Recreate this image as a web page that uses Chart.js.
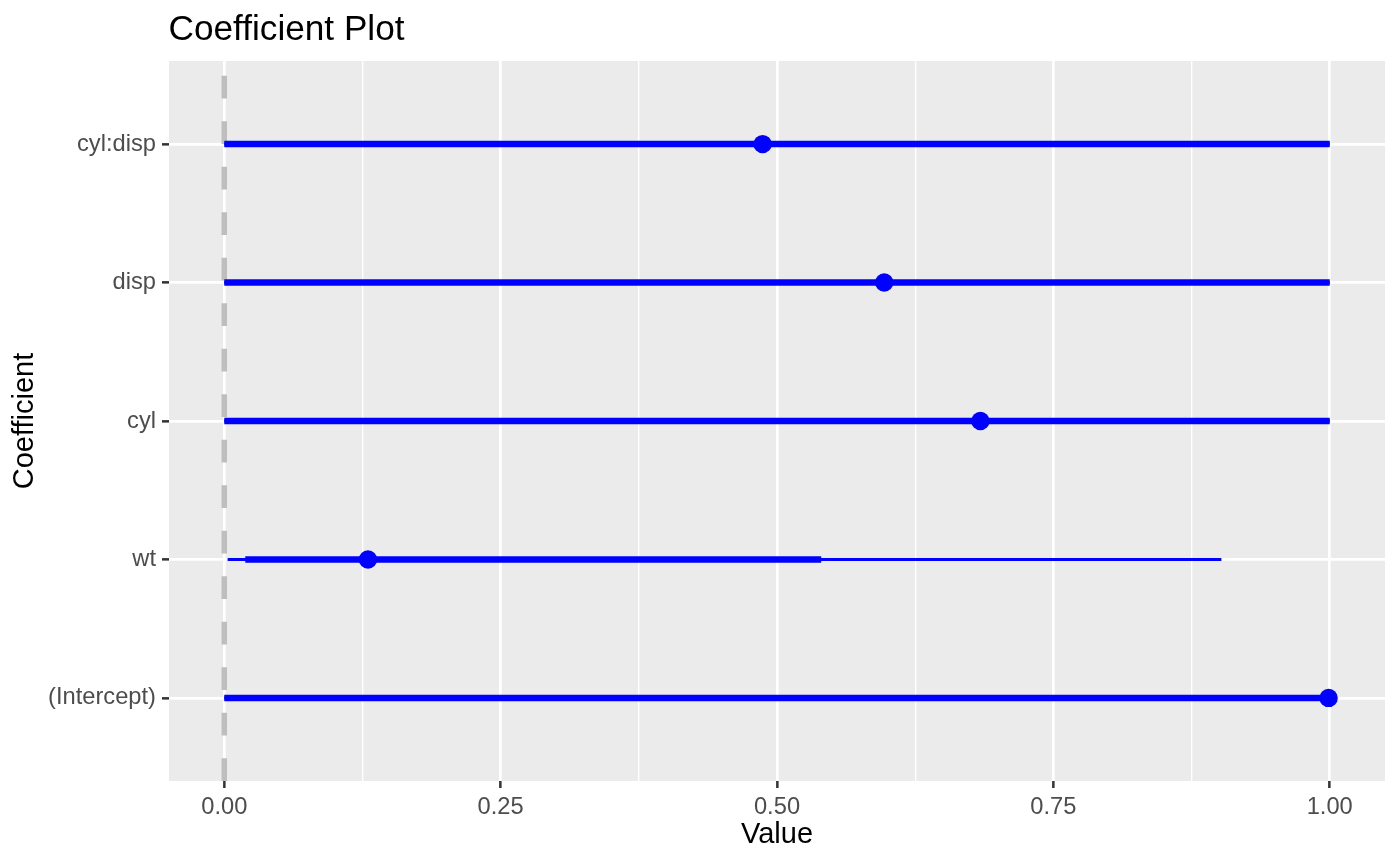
<!DOCTYPE html>
<html>
<head>
<meta charset="utf-8">
<script src="https://cdn.jsdelivr.net/npm/chart.js@4.4.1/dist/chart.umd.min.js"></script>
<style>
  html, body { margin: 0; padding: 0; background: #fff; }
  canvas { display: block; }
</style>
</head>
<body>
<canvas id="coefChart" width="1400" height="865"></canvas>
<script>
// coefficients, bottom to top
const coefNames = ['(Intercept)', 'wt', 'cyl', 'disp', 'cyl:disp'];
const estimates = [0.999, 0.130, 0.684, 0.597, 0.487];
const innerLow  = [0, 0.019, 0, 0, 0];
const innerHigh = [1, 0.540, 1, 1, 1];
const outerLow  = [0, 0.003, 0, 0, 0];
const outerHigh = [1, 0.902, 1, 1, 1];
const xTicks = [0, 0.125, 0.25, 0.375, 0.5, 0.625, 0.75, 0.875, 1];
const refLine = 0;
const xMin = -0.05, xMax = 1.05;
const yMin = 0.4, yMax = 5.6;

const FONT = '"Liberation Sans", Arial, Helvetica, sans-serif';
const isMajor = v => Math.abs(v * 4 - Math.round(v * 4)) < 1e-9;

const datasets = [];

// dashed reference line at zero
datasets.push({
  data: [{ x: refLine, y: yMin }, { x: refLine, y: yMax }],
  showLine: true,
  borderColor: '#BEBEBE',
  borderWidth: 5.5,
  borderDash: [22.75, 22.75],
  pointRadius: 0,
  order: 4
});

coefNames.forEach((name, i) => {
  datasets.push({
    data: [{ x: outerLow[i], y: i + 1 }, { x: outerHigh[i], y: i + 1 }],
    showLine: true,
    borderColor: '#0000FF',
    borderWidth: 3,
    pointRadius: 0,
    order: 3
  });
  datasets.push({
    data: [{ x: innerLow[i], y: i + 1 }, { x: innerHigh[i], y: i + 1 }],
    showLine: true,
    borderColor: '#0000FF',
    borderWidth: 6.5,
    pointRadius: 0,
    order: 2
  });
});

datasets.push({
  data: estimates.map((v, i) => ({ x: v, y: i + 1 })),
  showLine: false,
  backgroundColor: '#0000FF',
  borderColor: '#0000FF',
  borderWidth: 0,
  pointRadius: 9.2,
  order: 1
});

const panelBg = {
  id: 'panelBg',
  beforeDraw(chart) {
    const { ctx, chartArea: a } = chart;
    ctx.save();
    ctx.fillStyle = '#EBEBEB';
    ctx.fillRect(a.left, a.top, a.right - a.left, a.bottom - a.top);
    ctx.restore();
  },
  afterDraw(chart) {
    const ctx = chart.ctx;
    ctx.save();
    ctx.fillStyle = '#000';
    ctx.font = '35.2px ' + FONT;
    ctx.textAlign = 'left';
    ctx.textBaseline = 'alphabetic';
    ctx.fillText('Coefficient Plot', 168.5, 39.5);
    ctx.restore();
  }
};

new Chart(document.getElementById('coefChart'), {
  type: 'scatter',
  data: { datasets: datasets },
  options: {
    responsive: false,
    animation: false,
    layout: { padding: { top: 61, right: 15, left: 0, bottom: 0 } },
    plugins: {
      legend: { display: false },
      tooltip: { enabled: false }
    },
    scales: {
      x: {
        type: 'linear',
        min: xMin,
        max: xMax,
        afterBuildTicks: s => { s.ticks = xTicks.map(v => ({ value: v })); },
        afterFit: s => { s.height = 84; },
        border: { display: false },
        grid: {
          color: '#FFFFFF',
          lineWidth: c => isMajor(c.tick.value) ? 2.7 : 1.35,
          tickColor: c => isMajor(c.tick.value) ? '#333333' : 'rgba(0,0,0,0)',
          tickWidth: 2.5,
          tickLength: 7
        },
        ticks: {
          autoSkip: false,
          maxRotation: 0,
          padding: 5,
          color: '#4D4D4D',
          font: { family: FONT, size: 23.7 },
          callback: v => isMajor(v) ? v.toFixed(2) : ''
        },
        title: {
          display: true,
          text: 'Value',
          color: '#000',
          font: { family: FONT, size: 29 },
          padding: { top: 0, bottom: 13 }
        }
      },
      y: {
        type: 'linear',
        min: yMin,
        max: yMax,
        afterBuildTicks: s => { s.ticks = coefNames.map((n, i) => ({ value: i + 1 })); },
        afterFit: s => { s.width = 169; },
        border: { display: false },
        grid: {
          color: '#FFFFFF',
          lineWidth: 2.7,
          tickColor: '#333333',
          tickWidth: 2.5,
          tickLength: 7
        },
        ticks: {
          autoSkip: false,
          padding: 6,
          color: '#4D4D4D',
          font: { family: FONT, size: 23.7 },
          callback: v => coefNames[Math.round(v) - 1] || ''
        },
        title: {
          display: true,
          text: 'Coefficient',
          color: '#000',
          font: { family: FONT, size: 29 },
          padding: { top: 8, bottom: 0 }
        }
      }
    }
  },
  plugins: [panelBg]
});
</script>
</body>
</html>
